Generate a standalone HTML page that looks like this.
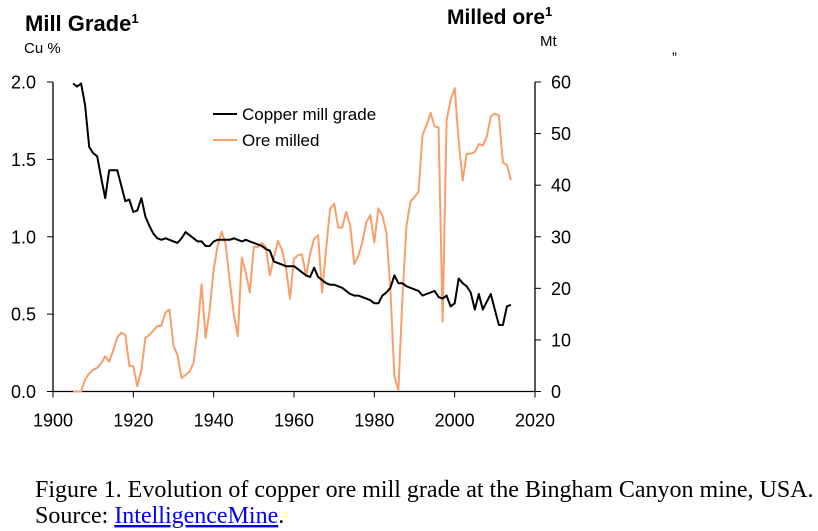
<!DOCTYPE html>
<html><head><meta charset="utf-8"><style>
body{margin:0;background:#fff;width:818px;height:531px;overflow:hidden;font-family:"Liberation Sans",Arial,sans-serif}
svg{position:absolute;left:0;top:0}
</style></head><body>
<svg id="chart" width="818" height="531">
<text x="25" y="31" font-size="22" font-weight="bold">Mill Grade<tspan font-size="13" dy="-8">1</tspan></text>
<text x="24" y="53" font-size="15">Cu %</text>
<text x="447" y="24" font-size="21" font-weight="bold">Milled ore<tspan font-size="13" dy="-8">1</tspan></text>
<text x="540" y="46" font-size="15">Mt</text>
<text x="672" y="54" font-size="15">„</text>
<g id="axes"></g>
<g id="series"></g>
<g>
<line x1="213" y1="114" x2="237" y2="114" stroke="#000" stroke-width="2"/>
<text x="242" y="120" font-size="17">Copper mill grade</text>
<line x1="213" y1="140" x2="237" y2="140" stroke="#f79f6a" stroke-width="2"/>
<text x="242" y="146" font-size="17">Ore milled</text>
</g>
<text x="35" y="497" font-size="24" font-family="Liberation Serif, serif">Figure 1. Evolution of copper ore mill grade at the Bingham Canyon mine, USA.</text>
<text x="35" y="523" font-size="24" font-family="Liberation Serif, serif">Source: <tspan fill="#00e" text-decoration="underline">IntelligenceMine</tspan>.</text>
</svg>
<script>
const startYear = 1905;
const grade = [1.99,1.97,1.99,1.85,1.58,1.54,1.52,1.38,1.25,1.43,
1.43,1.43,1.33,1.23,1.24,1.16,1.17,1.25,1.13,1.07,
1.02,0.99,0.98,0.99,0.98,0.97,0.96,0.99,1.03,1.01,
0.99,0.97,0.97,0.94,0.94,0.97,0.98,0.98,0.98,0.98,
0.99,0.98,0.97,0.98,0.97,0.96,0.95,0.94,0.92,0.91,
0.84,0.83,0.82,0.81,0.81,0.81,0.79,0.77,0.75,0.74,
0.80,0.74,0.72,0.70,0.69,0.69,0.68,0.67,0.65,0.63,
0.62,0.62,0.61,0.60,0.59,0.57,0.57,0.62,0.64,0.67,
0.75,0.70,0.70,0.68,0.67,0.66,0.65,0.62,0.63,0.64,
0.65,0.61,0.60,0.62,0.55,0.57,0.73,0.70,0.68,0.64,
0.53,0.63,0.53,0.58,0.63,0.53,0.43,0.43,0.55,0.56];
const ore = [0,0,0,2.3,3.5,4.2,4.6,5.5,6.8,5.8,
8,10.5,11.4,11,5,4.9,1,4.2,10.4,11,
11.8,12.7,12.8,15.3,15.9,8.8,7.1,2.6,3.2,3.9,
5.5,12,20.8,10.4,15.9,23.7,28.3,31,28.5,21.5,
15,10.7,26,23,19.2,28.1,28,28.8,28,22.5,
26,29.2,27.5,24,18,25.7,26.4,26.6,22.4,26.7,
29.6,30.3,19.2,27.6,35.4,36.4,31.8,31.8,34.8,32.2,
24.7,26.3,28.9,32.8,34.2,28.9,35.5,34.1,30.8,19.8,
2.9,0.3,18,32.2,36.8,37.7,38.7,49.7,51.7,54,
51.4,51.2,13.6,52.6,56.5,58.8,48.4,40.9,46.1,46.1,
46.4,48,47.7,49.4,53.3,53.9,53.5,44.4,43.9,41];
const xTicks = [1900,1920,1940,1960,1980,2000,2020];
const leftTicks = ["0.0","0.5","1.0","1.5","2.0"];
const rightTicks = ["0","10","20","30","40","50","60"];

const X0=53,X1=535,Y0=391.5,Y1=82;
const xs = y => X0 + (y-1900)/120*(X1-X0);
const yl = v => Y0 - v/2*(Y0-Y1);
const yr = v => Y0 - v/60*(Y0-Y1);
const NS="http://www.w3.org/2000/svg";
function mk(tag, attrs, parent){const e=document.createElementNS(NS,tag);for(const k in attrs)e.setAttribute(k,attrs[k]);parent.appendChild(e);return e;}
const ax=document.getElementById('axes');
const frame=mk('path',{d:`M${X0},${Y1}V${Y0}H${X1}V${Y1}`,fill:'none',stroke:'#000','stroke-width':1.3},ax);


xTicks.forEach(t=>{
  const x=xs(t);
  mk('line',{x1:x,y1:Y0,x2:x,y2:Y0+6,stroke:'#000'},ax);
  const tx=mk('text',{x:x,y:Y0+35,'font-size':18,'text-anchor':'middle'},ax);
  tx.textContent=t;
  
  
});
leftTicks.forEach(t=>{
  const y=yl(parseFloat(t));
  mk('line',{x1:X0,y1:y,x2:X0-6,y2:y,stroke:'#000'},ax);
  const tx=mk('text',{x:X0-17,y:y+6.5,'font-size':18,'text-anchor':'end'},ax);
  tx.textContent=t;
  
  
});
rightTicks.forEach(t=>{
  const y=yr(parseFloat(t));
  mk('line',{x1:X1,y1:y,x2:X1+6,y2:y,stroke:'#000'},ax);
  const tx=mk('text',{x:X1+16,y:y+6.5,'font-size':18,'text-anchor':'start'},ax);
  tx.textContent=t;
  
  
});
const se=document.getElementById('series');
const od=ore.map((v,i)=>(i?'L':'M')+xs(startYear+i).toFixed(1)+','+yr(v).toFixed(1)).join('');
const op=mk('path',{d:od,fill:'none',stroke:'#f79f6a','stroke-width':2,'stroke-linejoin':'round'},se);


const gd=grade.map((v,i)=>(i?'L':'M')+xs(startYear+i).toFixed(1)+','+yl(v).toFixed(1)).join('');
const gp=mk('path',{d:gd,fill:'none',stroke:'#000','stroke-width':2,'stroke-linejoin':'round'},se);


</script>
</body></html>
